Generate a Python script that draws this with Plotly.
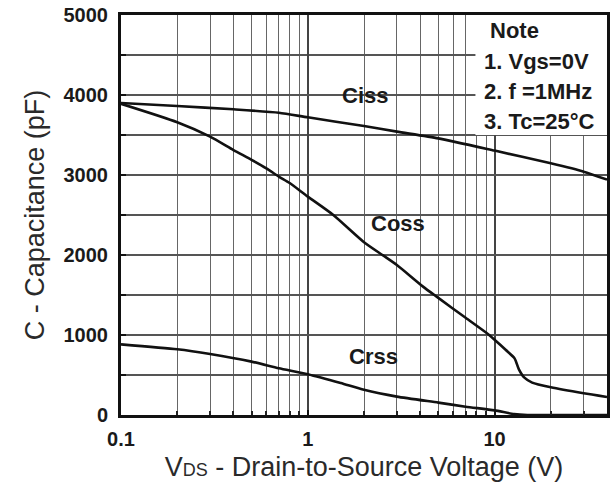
import numpy as np
import plotly.graph_objects as go

# ---- data ----
ciss_v = [0.1, 0.2, 0.4, 0.7, 1, 2, 3, 5, 10, 20, 30, 40]
ciss_c = [3900, 3862, 3821, 3779, 3721, 3612, 3542, 3458, 3305, 3146, 3042, 2942]

coss_v = [0.1, 0.2, 0.3, 0.4, 0.5, 0.6, 0.7, 0.8, 1, 1.37, 2, 2.53, 3, 4.14, 5, 7, 9, 10, 11.5, 12.8, 13.5, 14.4, 15.9, 20, 30, 40]
coss_c = [3890, 3660, 3480, 3312, 3190, 3083, 2980, 2900, 2730, 2500, 2160, 1995, 1875, 1605, 1464, 1215, 1030, 940, 812, 708, 570, 470, 405, 346, 271, 225]

crss_v = [0.1, 0.2, 0.3, 0.5, 0.7, 1, 1.5, 2, 3, 5, 7, 10, 12.7, 15, 20, 30, 40]
crss_c = [883, 821, 762, 667, 585, 510, 400, 315, 230, 155, 104, 58, 12, 0, 0, 0, 0]

x_major = [0.1, 1, 10]
x_major_text = ["0.1", "1", "10"]
x_minor = [0.2, 0.3, 0.4, 0.5, 0.6, 0.7, 0.8, 0.9, 2, 3, 4, 5, 6, 7, 8, 9, 20, 30]
y_major = [0, 1000, 2000, 3000, 4000, 5000]
y_minor = [500, 1500, 2500, 3500, 4500]

curve_labels = [("Ciss", 2.02, 4000), ("Coss", 3.04, 2396), ("Crss", 2.25, 729)]
note_lines = ["Note", "1. Vgs=0V", "2. f =1MHz", "3. Tc=25°C"]
note_y = [4810, 4420, 4045, 3670]

X_MIN, X_MAX = 0.1, 40

fig = go.Figure()
for xs, ys in [(ciss_v, ciss_c), (coss_v, coss_c), (crss_v, crss_c)]:
    fig.add_trace(go.Scatter(x=xs, y=ys, mode="lines",
                             line=dict(color="#111111", width=2.6, shape="spline", smoothing=0.6),
                             showlegend=False, hoverinfo="skip"))

# white note box over the grid
fig.add_shape(type="rect", xref="x", yref="y", x0=7.9, x1=X_MAX, y0=3500, y1=5000,
              fillcolor="white", line=dict(width=0), layer="between")

for name, xv, yv in curve_labels:
    fig.add_annotation(x=np.log10(xv), y=yv, text=name, showarrow=False,
                       font=dict(family="Liberation Sans", size=22, color="#1a1a1a", weight="bold"))

for i, (t, yv) in enumerate(zip(note_lines, note_y)):
    fig.add_annotation(x=np.log10(9.2 if i == 0 else 8.6), y=yv, text=t, showarrow=False,
                       xanchor="left",
                       font=dict(family="Liberation Sans", size=22, color="#1a1a1a", weight="bold"))

tickfont = dict(family="Liberation Sans", size=20, color="#1a1a1a", weight="bold")
titlefont = dict(family="Liberation Sans", size=27, color="#2a2a2a")

fig.update_xaxes(type="log", range=[np.log10(X_MIN), np.log10(X_MAX)],
                 tickvals=x_major, ticktext=x_major_text, tickfont=tickfont,
                 showgrid=True, gridcolor="#444444", gridwidth=2.2,
                 ticks="inside", ticklen=5, tickwidth=2, tickcolor="#111",
                 minor=dict(tickvals=x_minor, showgrid=True, gridcolor="#666666", gridwidth=1.4,
                            ticks="inside", ticklen=4, tickwidth=1.5, tickcolor="#222"),
                 showline=True, linecolor="#111111", linewidth=3, mirror=True,
                 zeroline=False, ticklabelstandoff=4, ticklabeloverflow="allow", automargin=False,
                 title=dict(text="V<span style='font-size:18px'>DS</span> - Drain-to-Source Voltage (V)",
                            font=titlefont, standoff=9))
fig.update_yaxes(range=[0, 5000], tickvals=y_major, tickfont=tickfont,
                 showgrid=True, gridcolor="#555555", gridwidth=1.6,
                 ticks="inside", ticklen=5, tickwidth=2, tickcolor="#111",
                 minor=dict(tickvals=y_minor, showgrid=True, gridcolor="#555555", gridwidth=1.6,
                            ticks="inside", ticklen=5, tickwidth=2, tickcolor="#111"),
                 showline=True, linecolor="#111111", linewidth=3, mirror=True,
                 zeroline=False, ticklabelstandoff=6, ticklabeloverflow="allow", automargin=False,
                 title=dict(text="C - Capacitance (pF)", font=titlefont, standoff=12))

fig.update_layout(width=613, height=486, margin=dict(l=121, r=6, t=15, b=71),
                  paper_bgcolor="white", plot_bgcolor="white")

# remove the default page margin so the figure fills the window exactly
fig.write_html("out.html", config={"displayModeBar": False},
               post_script="document.body.style.margin='0';")
